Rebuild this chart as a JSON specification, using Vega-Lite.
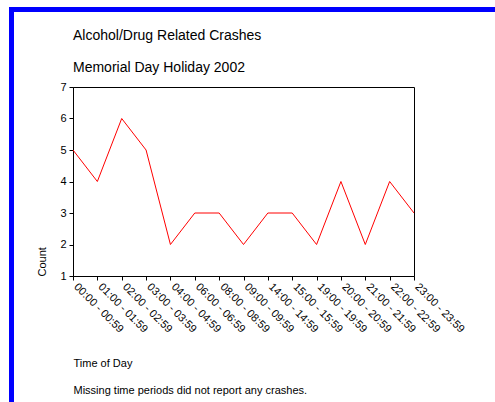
{
  "$schema": "https://vega.github.io/schema/vega-lite/v6.json",
  "padding": {"left": 9, "top": 7, "right": 0, "bottom": 0},
  "background": "white",
  "config": {
    "font": "Liberation Sans",
    "axis": {"grid": false, "labelFont": "Liberation Sans", "titleFont": "Liberation Sans", "labelColor": "#000000", "titleColor": "#000000", "domainColor": "#000000", "tickColor": "#000000", "labelFontSize": 11, "titleFontSize": 11, "titleFontWeight": "normal"},
    "title": {"font": "Liberation Sans", "subtitleFont": "Liberation Sans", "color": "#000000", "subtitleColor": "#000000"}
  },
  "spacing": 0,
  "hconcat": [
    {
      "width": 5, "height": 395,
      "data": {"values": [{"a": 1}]},
      "mark": {"type": "rect", "color": "#0000ff"},
      "view": {"fill": "#0000ff", "stroke": null}
    },
    {
      "spacing": 16,
      "vconcat": [
        {
          "width": 481, "height": 5,
          "data": {"values": [{"a": 1}]},
          "mark": {"type": "rect", "color": "#0000ff"},
          "view": {"fill": "#0000ff", "stroke": null}
        },
        {
          "spacing": 21,
          "hconcat": [
            {
              "width": 1, "height": 1,
              "data": {"values": [{"a": 1}]},
              "mark": {"type": "rect", "opacity": 0},
              "view": {"stroke": null}
            },
            {
              "width": 341, "height": 189,
              "title": {
                "text": ["Alcohol/Drug Related Crashes", "Memorial Day Holiday 2002"],
                "fontSize": 14,
                "fontWeight": "normal",
                "lineHeight": 32,
                "anchor": "start",
                "frame": "group",
                "offset": 6
              },
              "data": {"values": [
                {"period": "00:00 - 00:59", "count": 5},
                {"period": "01:00 - 01:59", "count": 4},
                {"period": "02:00 - 02:59", "count": 6},
                {"period": "03:00 - 03:59", "count": 5},
                {"period": "04:00 - 04:59", "count": 2},
                {"period": "06:00 - 06:59", "count": 3},
                {"period": "08:00 - 08:59", "count": 3},
                {"period": "09:00 - 09:59", "count": 2},
                {"period": "14:00 - 14:59", "count": 3},
                {"period": "15:00 - 15:59", "count": 3},
                {"period": "19:00 - 19:59", "count": 2},
                {"period": "20:00 - 20:59", "count": 4},
                {"period": "21:00 - 21:59", "count": 2},
                {"period": "22:00 - 22:59", "count": 4},
                {"period": "23:00 - 23:59", "count": 3}
              ]},
              "mark": {"type": "line", "color": "#ff0000", "strokeWidth": 1},
              "view": {"stroke": "#000000", "strokeWidth": 1},
              "encoding": {
                "x": {
                  "field": "period", "type": "ordinal", "sort": null,
                  "scale": {"type": "point", "padding": 0},
                  "axis": {
                    "labelAngle": 45, "labelAlign": "left", "labelBaseline": "alphabetic",
                    "tickSize": 4, "labelPadding": 7,
                    "title": ["Time of Day", "Missing time periods did not report any crashes."],
                    "titleAnchor": "start", "titleAlign": "left", "titleLineHeight": 27,
                    "titlePadding": 23
                  }
                },
                "y": {
                  "field": "count", "type": "quantitative",
                  "scale": {"domain": [1, 7], "nice": false, "zero": false},
                  "axis": {
                    "values": [1, 2, 3, 4, 5, 6, 7], "tickSize": 4, "labelPadding": 3,
                    "title": "Count", "titleAnchor": "start", "titlePadding": 12
                  }
                }
              }
            }
          ]
        }
      ]
    }
  ]
}
